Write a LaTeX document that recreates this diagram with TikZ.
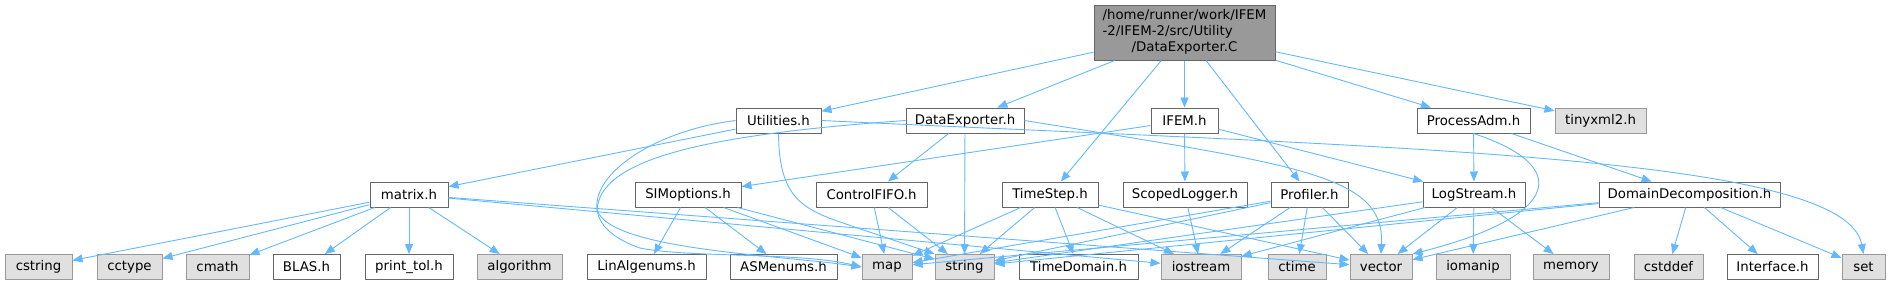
\documentclass[tikz,border=0pt]{standalone}
\usepackage{fontspec}
\setmainfont{DejaVu Sans}
\usetikzlibrary{arrows.meta}
\definecolor{edgeblue}{HTML}{63B8FF}
\definecolor{boxline}{HTML}{666666}
\definecolor{extfill}{HTML}{E0E0E0}
\definecolor{extline}{HTML}{999999}
\definecolor{mainfill}{HTML}{999999}

\tikzset{
  hfile/.style={draw=boxline,fill=white,line width=1pt,minimum height=25pt,
    inner xsep=2pt,inner ysep=0pt,font=\fontsize{13.3}{16}\selectfont},
  extfile/.style={hfile,draw=extline,fill=extfill},
  dep/.style={draw=edgeblue,line width=0.9pt,-{Triangle[length=10pt,width=8pt]}}
}

\begin{document}
\begin{tikzpicture}[x=1pt,y=-1pt]
  \useasboundingbox (0,0) rectangle (1899,285);
  % Datei selbst
  \node[hfile,fill=mainfill,minimum width=181pt,minimum height=55pt] (main) at (1184.5,32.5)
    {\begin{tabular}{@{}l@{}}/home/runner/work/IFEM\\-2/IFEM-2/src/Utility\\\multicolumn{1}{@{}c@{}}{/DataExporter.C}\end{tabular}};
  % erste Ebene
  \node[hfile,minimum width=85pt] (util) at (778.5,120.5) {Utilities.h};
  \node[hfile,minimum width=118pt] (dexp) at (965,120.5) {DataExporter.h};
  \node[hfile,minimum width=67pt] (ifem) at (1184.5,120.5) {IFEM.h};
  \node[hfile,minimum width=113pt] (padm) at (1473.5,120.5) {ProcessAdm.h};
  \node[extfile,minimum width=91pt] (tinyxml) at (1600.5,120.5) {tinyxml2.h};
  % zweite Ebene
  \node[hfile,minimum width=78pt] (matrix) at (409,194.5) {matrix.h};
  \node[hfile,minimum width=106pt] (simopt) at (688,194.5) {SIMoptions.h};
  \node[hfile,minimum width=111pt] (fifo) at (871.5,194.5) {ControlFIFO.h};
  \node[hfile,minimum width=96pt] (tstep) at (1050,194.5) {TimeStep.h};
  \node[hfile,minimum width=124pt] (slog) at (1185,194.5) {ScopedLogger.h};
  \node[hfile,minimum width=77pt] (prof) at (1309.5,194.5) {Profiler.h};
  \node[hfile,minimum width=102pt] (lstream) at (1474,194.5) {LogStream.h};
  \node[hfile,minimum width=181pt] (ddec) at (1689.5,194.5) {DomainDecomposition.h};
  % dritte Ebene
  \node[extfile,minimum width=67pt] (cstring) at (38.5,267) {cstring};
  \node[extfile,minimum width=65pt] (cctype) at (129.5,267) {cctype};
  \node[extfile,minimum width=63pt] (cmath) at (217.5,267) {cmath};
  \node[hfile,minimum width=67pt] (blas) at (306.5,267) {BLAS.h};
  \node[hfile,minimum width=88pt] (ptol) at (409,267) {print\_tol.h};
  \node[extfile,minimum width=85pt] (algo) at (519.5,267) {algorithm};
  \node[hfile,minimum width=119pt] (linalg) at (646.5,267) {LinAlgenums.h};
  \node[hfile,minimum width=107pt] (asmenum) at (783.5,267) {ASMenums.h};
  \node[extfile,minimum width=50pt] (map) at (887,267) {map};
  \node[extfile,minimum width=59pt] (string) at (964.5,267) {string};
  \node[hfile,minimum width=119pt] (tdom) at (1078.5,267) {TimeDomain.h};
  \node[extfile,minimum width=80pt] (iostream) at (1201,267) {iostream};
  \node[extfile,minimum width=58pt] (ctime) at (1297,267) {ctime};
  \node[extfile,minimum width=62pt] (vector) at (1381,267) {vector};
  \node[extfile,minimum width=74pt] (iomanip) at (1473,267) {iomanip};
  \node[extfile,minimum width=76pt] (memory) at (1571,267) {memory};
  \node[extfile,minimum width=69pt] (cstddef) at (1668.5,267) {cstddef};
  \node[hfile,minimum width=91pt] (iface) at (1772.5,267) {Interface.h};
  \node[extfile,minimum width=43pt] (set) at (1863.5,267) {set};
  % gerade Abhaengigkeiten
  \foreach \a/\b in {main/util,main/dexp,main/tstep,main/ifem,main/prof,main/padm,main/tinyxml,
      util/matrix,dexp/fifo,dexp/string,ifem/simopt,ifem/slog,ifem/lstream,
      padm/lstream,padm/ddec,
      matrix/cstring,matrix/cctype,matrix/cmath,matrix/blas,matrix/ptol,matrix/algo,
      matrix/iostream,matrix/vector,
      simopt/linalg,simopt/asmenum,simopt/map,simopt/string,fifo/map,fifo/string,
      tstep/map,tstep/string,tstep/tdom,tstep/iostream,tstep/vector,slog/iostream,
      prof/map,prof/string,prof/iostream,prof/ctime,prof/vector,
      lstream/string,lstream/iostream,lstream/vector,lstream/iomanip,lstream/memory,
      ddec/map,ddec/string,ddec/vector,ddec/cstddef,ddec/iface,ddec/set}
    \draw[dep] (\a) -- (\b);
  % gebogene Abhaengigkeiten
  \draw[dep] (util.west) .. controls (620,135) and (545,215) .. (640,248)
    .. controls (690,258) and (800,252) .. (map.west);
  \draw[dep] (dexp.west) .. controls (700,135) and (600,160) .. (597,210)
    .. controls (610,250) and (780,255) .. (map.west);
  \draw[dep] (util.south) .. controls (779,195) and (800,208) .. (840,222) -- (string.north west);
  \draw[dep] (util.east) .. controls (1400,148) and (1845,155) .. (set.north);
  \draw[dep] (dexp.east) .. controls (1300,165) and (1385,175) .. (vector.north);
  \draw[dep] (padm.south) .. controls (1570,165) and (1565,215) .. (vector.north east);
\end{tikzpicture}
\end{document}
